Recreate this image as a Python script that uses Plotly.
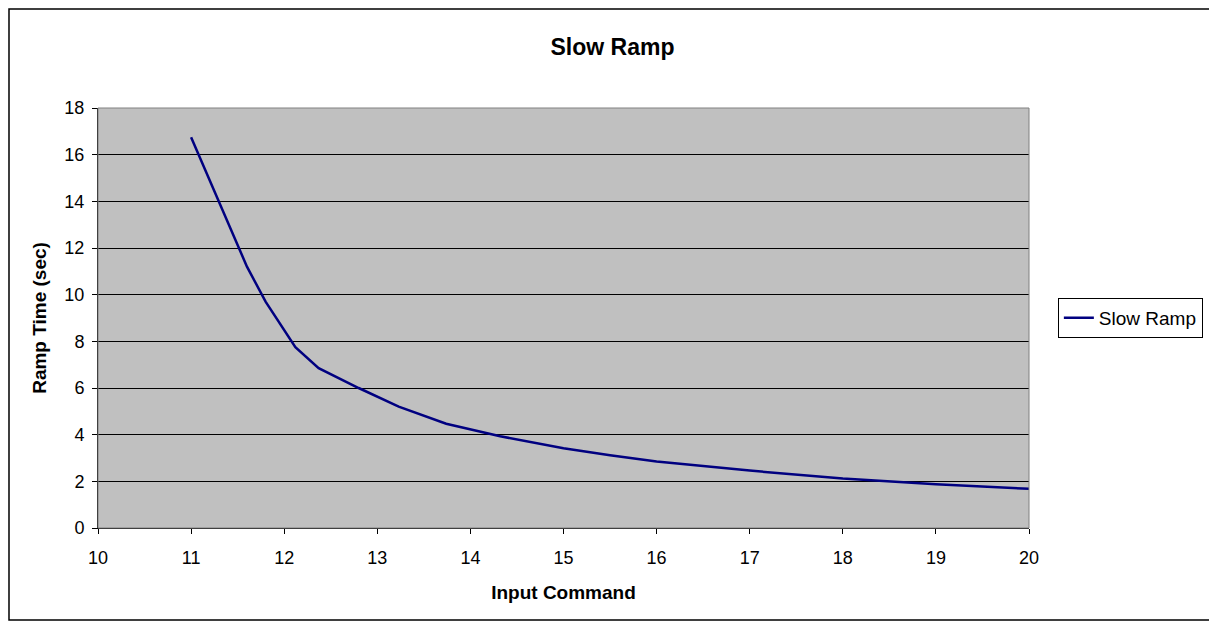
import plotly.graph_objects as go

input_command = [11.0, 11.2, 11.4, 11.6, 11.8, 12.0, 12.12, 12.37, 12.8, 13.23,
                 13.74, 14.32, 15.0, 15.5, 16.0, 17.0, 18.0, 19.0, 20.0]
ramp_time = [16.75, 14.9, 13.05, 11.2, 9.7, 8.45, 7.75, 6.85, 6.0, 5.2,
             4.47, 3.93, 3.42, 3.12, 2.85, 2.46, 2.12, 1.87, 1.68]

x_ticks = list(range(10, 21))
y_ticks = list(range(0, 19, 2))

font = "Liberation Sans, Arial, sans-serif"

fig = go.Figure(data=[
    go.Scatter(x=input_command, y=ramp_time, mode="lines", name="Slow Ramp",
               line=dict(color="#000080", width=2.5))
])

# page body has an 8px margin, so the figure is a bit smaller than the window
fig.update_layout(
    width=1209, height=615,
    margin=dict(l=90, r=188, t=100, b=95),
    paper_bgcolor="white", plot_bgcolor="#C0C0C0",
    font=dict(family=font, size=18, color="black"),
    title=dict(text="<b>Slow Ramp</b>", x=0.5, xanchor="center", y=0.9366, yanchor="middle",
               font=dict(size=23, family=font)),
    showlegend=True,
    legend=dict(x=1.031, y=0.5, xanchor="left", yanchor="middle",
                bordercolor="black", borderwidth=1, bgcolor="white",
                font=dict(size=19, family=font), itemwidth=30),
    shapes=[
        dict(type="rect", xref="paper", yref="paper", x0=-0.0956, x1=1.1987, y0=-0.219, y1=1.236,
             line=dict(color="black", width=1.5), layer="below"),
        dict(type="rect", xref="paper", yref="paper", x0=0, x1=1, y0=0, y1=1,
             line=dict(color="#808080", width=1)),
    ],
)

fig.update_xaxes(
    range=[10, 20], tickvals=x_ticks, ticks="outside", ticklen=5, tickcolor="black",
    showgrid=False, zeroline=False, showline=True, linecolor="black", linewidth=1,
    title=dict(text="<b>Input Command</b>", font=dict(size=19), standoff=19),
    tickfont=dict(size=18), ticklabelstandoff=8,
)
fig.update_yaxes(
    range=[0, 18], tickvals=y_ticks, ticks="outside", ticklen=5, tickcolor="black",
    showgrid=True, gridcolor="black", gridwidth=1, zeroline=False,
    showline=True, linecolor="black", linewidth=1,
    title=dict(text="<b>Ramp Time (sec)</b>", font=dict(size=19), standoff=12),
    tickfont=dict(size=18), ticklabelstandoff=4,
)

fig.write_html("out.html")
